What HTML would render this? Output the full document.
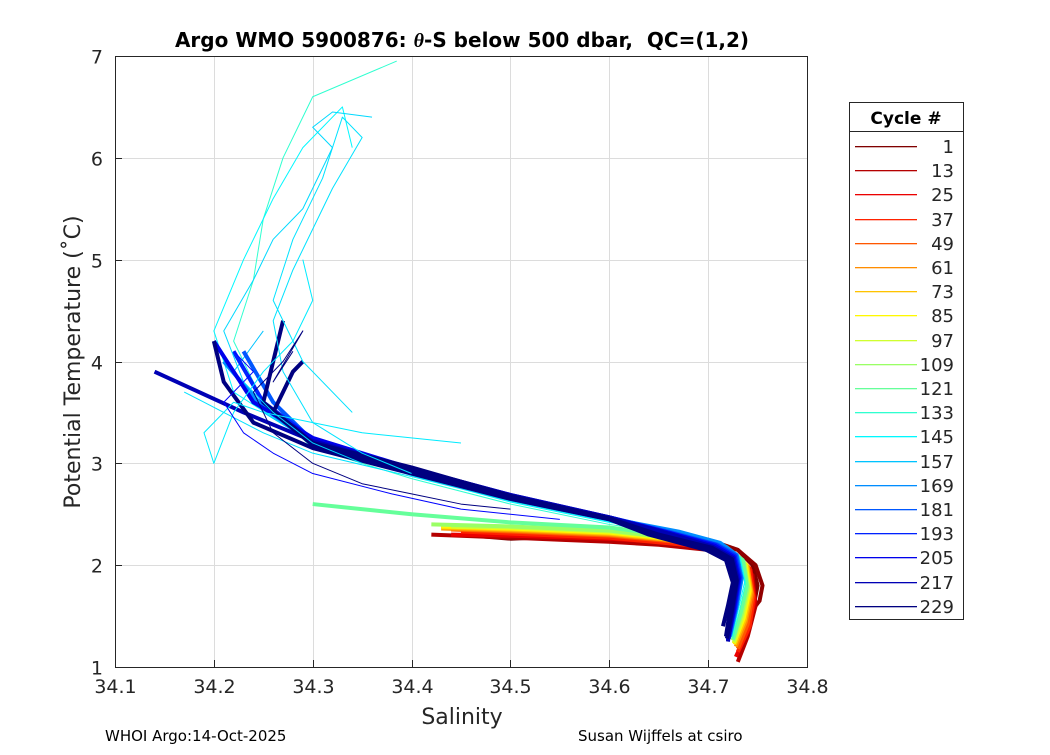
<!DOCTYPE html>
<html><head><meta charset="utf-8"><style>
body{margin:0;background:#fff;font-family:"Liberation Sans","DejaVu Sans",sans-serif}
</style></head><body>
<svg id="c" width="1050" height="750" viewBox="0 0 1050 750" xmlns="http://www.w3.org/2000/svg" font-family="'DejaVu Sans','Liberation Sans',sans-serif">
<rect width="1050" height="750" fill="#fff"/>
<rect x="115" y="56" width="692" height="611" fill="#fff" stroke="none"/>
<g id="grid"></g><g id="lines"></g><g id="axes"></g>
<text x="462" y="47" text-anchor="middle" font-size="20" font-weight="bold" xml:space="preserve">Argo WMO 5900876: <tspan font-style="italic" font-family="'Liberation Serif',serif">θ</tspan>-S below 500 dbar,&#160; QC=(1,2)</text>
<text x="462" y="724" text-anchor="middle" font-size="22" fill="#262626">Salinity</text>
<text transform="translate(80,362) rotate(-90)" text-anchor="middle" font-size="22" fill="#262626">Potential Temperature (˚C)</text>
<text x="105" y="741" font-size="15">WHOI Argo:14-Oct-2025</text>
<text x="578" y="741" font-size="15">Susan Wijffels at csiro</text>
<g id="legend"></g>
</svg>
<script>
const xTicks=[34.1,34.2,34.3,34.4,34.5,34.6,34.7,34.8];
const yTicks=[1,2,3,4,5,6,7];
const legendCycles=[1,13,25,37,49,61,73,85,97,109,121,133,145,157,169,181,193,205,217,229];
const cycles=[1,5,13,25,37,49,61,73,85,97,109,121,133,145,150,157,169,181,193,205,217,229,229,229,150,152,148,229,200];
const salinity=[
[34.735,34.745,34.75,34.745,34.73,34.7,34.65,34.6,34.55,34.5,34.45],
[34.74,34.752,34.755,34.748,34.73,34.7,34.66,34.62,34.6],
[34.73,34.74,34.748,34.745,34.73,34.7,34.65,34.6,34.55,34.5,34.42],
[34.728,34.74,34.747,34.743,34.728,34.7,34.65,34.6,34.5,34.44],
[34.73,34.742,34.746,34.742,34.727,34.7,34.6,34.5,34.45],
[34.73,34.74,34.745,34.74,34.726,34.7,34.6,34.5,34.44],
[34.728,34.738,34.744,34.74,34.725,34.7,34.6,34.5,34.43],
[34.727,34.737,34.743,34.739,34.724,34.69,34.6,34.5,34.43],
[34.726,34.736,34.742,34.738,34.722,34.69,34.6,34.5,34.43],
[34.726,34.735,34.741,34.737,34.721,34.69,34.6,34.5,34.44],
[34.725,34.734,34.74,34.736,34.72,34.68,34.6,34.5,34.42],
[34.725,34.733,34.739,34.735,34.718,34.68,34.6,34.5,34.4,34.3],
[34.725,34.732,34.738,34.733,34.716,34.68,34.6,34.5,34.4,34.3,34.25,34.22,34.24,34.25,34.27,34.3,34.385],
[34.724,34.731,34.737,34.732,34.715,34.68,34.6,34.5,34.4,34.3,34.22,34.2,34.23,34.26,34.29,34.33,34.34],
[34.72,34.73,34.735,34.73,34.71,34.67,34.6,34.5,34.4,34.3,34.25,34.21,34.19,34.17],
[34.723,34.73,34.735,34.73,34.713,34.67,34.6,34.5,34.4,34.3,34.25,34.22,34.25],
[34.722,34.729,34.734,34.729,34.712,34.67,34.6,34.5,34.4,34.3,34.25,34.21],
[34.721,34.728,34.733,34.728,34.71,34.66,34.6,34.5,34.4,34.3,34.26,34.23],
[34.72,34.727,34.732,34.727,34.708,34.66,34.6,34.5,34.4,34.3,34.25,34.22],
[34.72,34.726,34.731,34.726,34.707,34.66,34.6,34.5,34.4,34.3,34.24,34.2],
[34.72,34.725,34.73,34.725,34.705,34.66,34.6,34.5,34.4,34.3,34.23,34.14],
[34.719,34.724,34.729,34.724,34.704,34.65,34.6,34.5,34.4,34.3,34.25,34.27],
[34.718,34.722,34.727,34.721,34.7,34.65,34.6,34.5,34.4,34.3,34.26,34.28,34.29],
[34.715,34.72,34.725,34.718,34.698,34.64,34.6,34.5,34.4,34.3,34.24,34.21,34.2],
[34.4,34.35,34.3,34.27,34.26,34.28,34.3,34.32,34.35,34.33,34.31,34.28,34.26,34.29,34.34],
[34.35,34.3,34.26,34.23,34.21,34.24,34.26,34.29,34.31,34.32,34.3,34.32,34.36],
[34.45,34.35,34.3,34.25,34.22,34.19,34.2,34.22,34.25,34.28,34.3,34.29],
[34.5,34.45,34.4,34.35,34.3,34.26,34.24,34.27,34.29,34.26,34.28],
[34.55,34.45,34.38,34.3,34.26,34.23,34.21,34.24,34.22]];
const temperature=[
[1.35,1.55,1.8,2.0,2.15,2.25,2.3,2.32,2.28,2.26,2.3],
[1.5,1.65,1.8,2.0,2.15,2.25,2.3,2.33,2.3],
[1.05,1.3,1.6,1.9,2.05,2.15,2.2,2.23,2.25,2.27,2.3],
[1.1,1.35,1.65,1.95,2.08,2.17,2.23,2.26,2.29,2.3],
[1.15,1.4,1.68,1.97,2.1,2.18,2.27,2.31,2.33],
[1.18,1.42,1.7,1.98,2.11,2.2,2.29,2.33,2.35],
[1.2,1.44,1.72,1.99,2.12,2.21,2.3,2.34,2.36],
[1.22,1.46,1.74,2.0,2.13,2.22,2.31,2.35,2.37],
[1.23,1.48,1.75,2.01,2.14,2.23,2.32,2.36,2.38],
[1.24,1.5,1.77,2.02,2.15,2.24,2.33,2.37,2.38],
[1.26,1.52,1.78,2.03,2.16,2.25,2.34,2.38,2.4],
[1.27,1.54,1.8,2.05,2.18,2.27,2.37,2.42,2.5,2.6],
[1.28,1.56,1.82,2.06,2.19,2.29,2.4,2.6,2.85,3.15,3.6,4.2,4.8,5.4,6.0,6.6,6.95],
[1.3,1.58,1.84,2.08,2.2,2.3,2.42,2.62,2.88,3.2,3.7,4.3,5.0,5.6,6.1,6.5,6.1],
[1.3,1.6,1.85,2.09,2.2,2.31,2.43,2.63,2.87,3.1,3.3,3.5,3.6,3.7],
[1.3,1.6,1.86,2.1,2.22,2.32,2.45,2.65,2.9,3.2,3.5,3.9,4.3],
[1.3,1.6,1.87,2.1,2.22,2.33,2.46,2.66,2.92,3.2,3.55,4.0],
[1.28,1.58,1.88,2.1,2.2,2.33,2.47,2.67,2.93,3.22,3.6,4.1],
[1.27,1.57,1.88,2.09,2.2,2.32,2.47,2.68,2.94,3.24,3.6,4.1],
[1.26,1.56,1.87,2.08,2.19,2.32,2.47,2.69,2.95,3.25,3.6,4.2],
[1.25,1.55,1.86,2.07,2.18,2.31,2.47,2.69,2.95,3.22,3.5,3.9],
[1.28,1.55,1.85,2.06,2.17,2.3,2.46,2.68,2.96,3.2,3.6,4.4],
[1.3,1.55,1.84,2.05,2.16,2.3,2.45,2.66,2.92,3.18,3.5,3.9,4.0],
[1.4,1.6,1.83,2.05,2.15,2.3,2.45,2.65,2.9,3.15,3.4,3.8,4.2],
[2.9,3.1,3.4,3.9,4.4,4.9,5.3,5.7,6.2,6.4,5.8,5.2,4.6,4.0,3.5],
[3.0,3.2,3.5,3.8,4.3,4.8,5.2,5.5,5.9,6.1,6.3,6.45,6.4],
[3.2,3.3,3.4,3.5,3.6,3.3,3.0,3.5,3.9,4.2,4.6,5.0],
[2.55,2.6,2.7,2.8,3.0,3.3,3.7,4.0,4.3,3.8,4.1],
[2.45,2.55,2.7,2.9,3.1,3.3,3.6,3.9,4.1]];

const X0=115,X1=807,Y0=667,Y1=56;
const sx=v=>X0+(v-34.1)/(0.7)*(X1-X0);
const sy=v=>Y0-(v-1)/6*(Y0-Y1);
const NS='http://www.w3.org/2000/svg';
function mk(t,a,p){const e=document.createElementNS(NS,t);for(const k in a)e.setAttribute(k,a[k]);p.appendChild(e);return e;}
function jet(c){const t=1-(c-1)/228;const f=x=>Math.max(0,Math.min(1,1.5-Math.abs(x)));
const r=f(4*t-3),g=f(4*t-2),b=f(4*t-1);return `rgb(${Math.round(r*255)},${Math.round(g*255)},${Math.round(b*255)})`;}
const grid=document.getElementById('grid'),axes=document.getElementById('axes'),lines=document.getElementById('lines');
xTicks.forEach(v=>{const x=Math.round(sx(v))+0.5;
 const g=mk('line',{x1:x,x2:x,y1:Y1,y2:Y0,stroke:'#dcdcdc','stroke-width':1},grid);
 
 
 mk('line',{x1:x,x2:x,y1:Y0,y2:Y0-7,stroke:'#262626'},axes);
 const t=mk('text',{x:x,y:Y0+26,'text-anchor':'middle','font-size':19,fill:'#262626'},axes);t.textContent=v.toFixed(1);
 
 });
yTicks.forEach(v=>{const y=Math.round(sy(v))+0.5;
 const g=mk('line',{x1:X0,x2:X1,y1:y,y2:y,stroke:'#dcdcdc','stroke-width':1},grid);
 
 
 mk('line',{x1:X0,x2:X0+7,y1:y,y2:y,stroke:'#262626'},axes);
 const t=mk('text',{x:X0-12,y:y+7,'text-anchor':'end','font-size':19,fill:'#262626'},axes);t.textContent=v;
 
 });
mk('rect',{x:X0+0.5,y:Y1+0.5,width:X1-X0,height:Y0-Y1,fill:'none',stroke:'#262626','stroke-width':1},axes);
cycles.forEach((c,i)=>{const pts=salinity[i].map((s,j)=>sx(s)+','+sy(temperature[i][j])).join(' ');
 const w=(c>=133&&c<=160)?1:(c>=160?4:4);
 const p=mk('polyline',{points:pts,fill:'none',stroke:jet(c),'stroke-width':(i>=24?1:w),'stroke-linejoin':'round'},lines);
 
 });
const lg=document.getElementById('legend');
mk('rect',{x:849.5,y:102.5,width:114,height:517,fill:'#fff',stroke:'#262626'},lg);
mk('line',{x1:849.5,x2:963.5,y1:131.5,y2:131.5,stroke:'#262626'},lg);
const lt=mk('text',{x:906,y:124,'text-anchor':'middle','font-size':17,'font-weight':'bold'},lg);lt.textContent='Cycle #';
legendCycles.forEach((c,i)=>{const y=Math.round(146+i*24.2);
 const l=mk('rect',{x:855,y:y,width:62,height:1.3,fill:jet(c)},lg);
 
 
 const t=mk('text',{x:954,y:y+7,'text-anchor':'end','font-size':18,fill:'#262626'},lg);t.textContent=c;
 
 });
</script>
</body></html>
